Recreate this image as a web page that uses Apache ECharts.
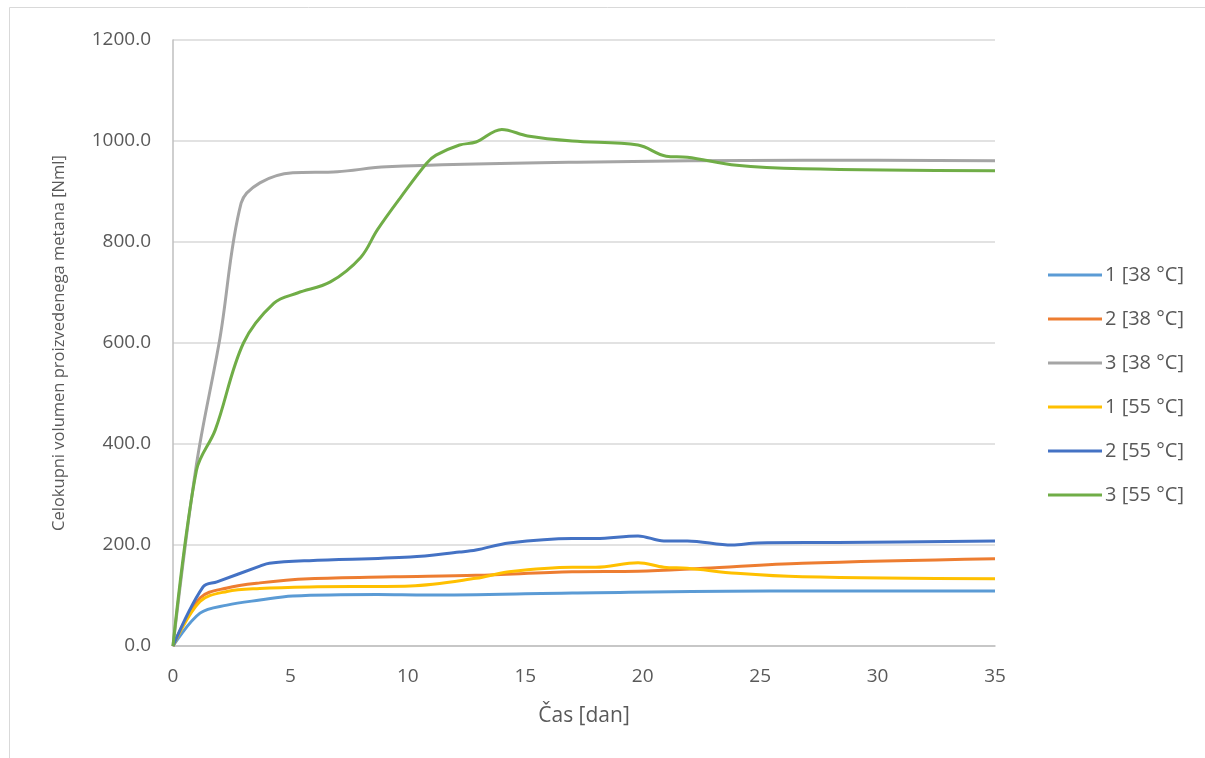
<!DOCTYPE html>
<html><head><meta charset="utf-8">
<script src="https://cdn.jsdelivr.net/npm/echarts@6/dist/echarts.min.js"></script>
<style>html,body{margin:0;padding:0;background:#fff}#c{width:1205px;height:758px}</style>
</head><body><div id="c"></div>
<script>
const seriesNames = ['1 [38 °C]','2 [38 °C]','3 [38 °C]','1 [55 °C]','2 [55 °C]','3 [55 °C]'];
const colors = ['#5B9BD5','#ED7D31','#A5A5A5','#FFC000','#4472C4','#70AD47'];
const xTicks = [0,5,10,15,20,25,30,35];
const yTicks = [0,200,400,600,800,1000,1200];

const s1_38 = [[0,0],[1.15,65],[2.3,81],[3.7,91],[5.1,99],[8.7,102],[10.8,101],[17,105],[25.4,109],[35,109]];
const s2_38 = [[0,0],[1.15,95],[2.3,115],[3.7,125],[5.8,133],[9.4,137],[12.9,140],[17,147],[19.8,148],[22.6,154],[26.8,164],[35,173]];
const s3_38 = [[0,0],[1,360],[2,610],[2.9,877],[3.7,917],[5.1,937],[7,939],[9.1,949],[17.2,958],[26.8,962],[35,961]];
const s1_55 = [[0,0],[1.15,88],[2.3,108],[3.7,114],[5.8,117],[10.1,119],[12.9,134],[14.3,147],[17,156],[18,156],[19.8,165],[20.9,156],[21.9,154],[24,144],[26.8,137],[35,133]];
const s2_55 = [[0,0],[1.28,117],[1.87,127],[3.7,158],[4.1,164],[5.8,169],[10.1,176],[12.2,186],[12.9,190],[14.3,204],[17,213],[18,213],[19.8,218],[20.9,208],[21.9,208],[23.8,200],[24.9,204],[28.3,205],[35,208]];
const s3_55 = [[0,0],[1,348],[1.8,428],[3,600],[4.3,679],[5.3,699],[6.7,721],[8,770],[8.7,824],[9.7,889],[10.8,956],[11.2,972],[12.2,992],[12.9,998],[14,1023],[15.1,1010],[17,1000],[19.8,992],[21,970],[21.9,968],[24,952],[26.8,945],[35,941]];
const allData = [s1_38,s2_38,s3_38,s1_55,s2_55,s3_55];

const FONT = 'Open Sans';
const chart = echarts.init(document.getElementById('c'));
chart.setOption({
  backgroundColor:'#fff',
  animation:false,
  graphic:[{type:'rect',shape:{x:9.5,y:7.5,width:1200,height:760},style:{fill:'none',stroke:'#d9d9d9',lineWidth:1},silent:true}],
  grid:{left:173,right:210,top:40,bottom:112},
  legend:{
    orient:'vertical',left:1043,top:260,itemGap:24,itemWidth:54,itemHeight:21,
    icon:'path://M0,10 L54,10 L54,13 L0,13 Z',
    textStyle:{fontFamily:FONT,fontSize:20,color:'#595959',padding:[0,0,0,-2]},
    data:seriesNames
  },
  xAxis:{
    type:'value',min:0,max:35,interval:5,
    name:'Čas [dan]',nameLocation:'middle',nameGap:60,
    nameTextStyle:{fontFamily:FONT,fontSize:21,color:'#595959'},
    axisLine:{lineStyle:{color:'#bfbfbf',width:1.5}},
    axisTick:{show:false},
    axisLabel:{fontFamily:FONT,fontSize:19,color:'#595959',margin:21},
    splitLine:{show:false}
  },
  yAxis:{
    type:'value',min:0,max:1200,interval:200,
    name:'Celokupni volumen proizvedenega metana [Nml]',nameLocation:'middle',nameGap:105,
    nameTextStyle:{fontFamily:FONT,fontSize:16.5,color:'#595959'},
    axisLine:{show:true,lineStyle:{color:'#bfbfbf',width:1.5}},
    axisTick:{show:false},
    axisLabel:{fontFamily:FONT,fontSize:19,color:'#595959',margin:22,formatter:v=>v.toFixed(1)},
    splitLine:{lineStyle:{color:'#d9d9d9',width:1.5}}
  },
  series: allData.map((d,i)=>({
    name:seriesNames[i],type:'line',data:d,smooth:0.35,showSymbol:false,
    lineStyle:{color:colors[i],width:3},itemStyle:{color:colors[i]},
    z: 2+i
  }))
});
</script></body></html>
